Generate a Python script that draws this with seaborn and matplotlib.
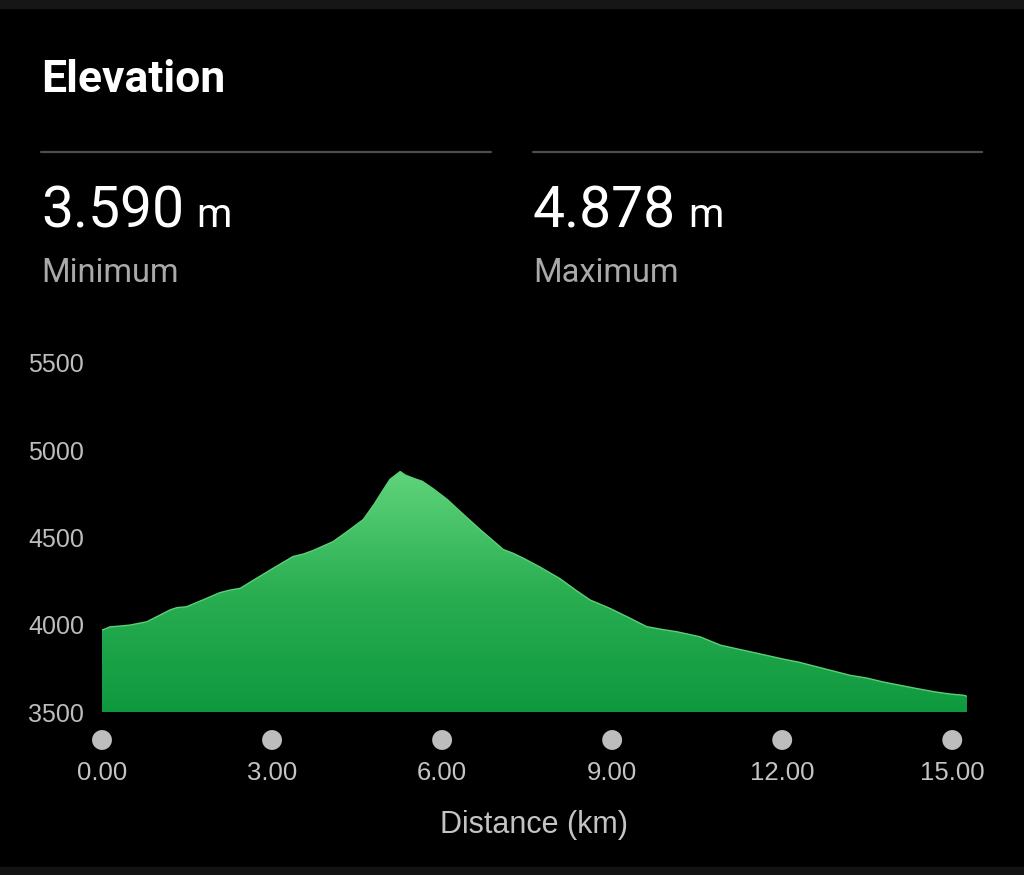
import numpy as np
import pandas as pd
import matplotlib
matplotlib.use("Agg")
import matplotlib.pyplot as plt
from matplotlib.colors import LinearSegmentedColormap
from matplotlib.patches import Rectangle
import matplotlib.transforms as mtransforms
import seaborn as sns

## data ##
distance_km = [0.00, 0.05, 0.14, 0.30, 0.49, 0.79, 1.05, 1.20, 1.32, 1.49,
               1.80, 2.08, 2.25, 2.44, 2.66, 3.00, 3.37, 3.55, 3.72, 4.08,
               4.35, 4.61, 4.80, 4.91, 5.08, 5.26, 5.35, 5.49, 5.65, 5.84,
               6.09, 6.40, 6.67, 7.08, 7.25, 7.43, 7.73, 8.08, 8.35, 8.61,
               8.96, 9.30, 9.61, 9.90, 10.14, 10.55, 10.91, 11.20, 11.44, 12.02,
               12.30, 12.61, 13.20, 13.50, 13.78, 14.38, 14.70, 14.96, 15.20, 15.26]
elevation_m = [3970, 3975, 3988, 3992, 3998, 4017, 4060, 4085, 4098, 4103,
               4145, 4184, 4198, 4209, 4253, 4320, 4391, 4405, 4425, 4477,
               4540, 4603, 4690, 4747, 4833, 4878, 4858, 4840, 4822, 4780,
               4718, 4625, 4546, 4431, 4410, 4382, 4330, 4264, 4200, 4142,
               4094, 4040, 3989, 3972, 3960, 3931, 3883, 3862, 3845, 3803,
               3785, 3759, 3710, 3694, 3672, 3634, 3615, 3603, 3596, 3590]
x_ticks = [0, 3, 6, 9, 12, 15]
x_tick_labels = ["0.00", "3.00", "6.00", "9.00", "12.00", "15.00"]
y_ticks = [3500, 4000, 4500, 5000, 5500]
min_label = "3.590"
max_label = "4.878"

df = pd.DataFrame({"Distance": distance_km, "Elevation": elevation_m})

sns.set_theme(style="dark")
plt.rcParams['font.family'] = ['Liberation Sans', 'DejaVu Sans']
plt.rcParams['figure.facecolor'] = 'black'
plt.rcParams['axes.facecolor'] = 'black'

W, H = 1024, 875
fig = plt.figure(figsize=(W / 100, H / 100), dpi=100)

def fx(px):
    return px / W

def fy(py):
    return 1 - py / H

# phone frame bands
fig.patches.append(Rectangle((0, fy(8)), 1, 8 / H, transform=fig.transFigure,
                             color='#161616', zorder=0))
fig.patches.append(Rectangle((0, 0), 1, 8 / H, transform=fig.transFigure,
                             color='#131313', zorder=0))

## header ##
hdr = ['Roboto', 'DejaVu Sans']
fig.text(fx(41), fy(80), "Elevation", color='white', fontsize=32,
         fontweight='bold', family=hdr, va='center', ha='left')
fig.add_artist(plt.Line2D([fx(41), fx(491)], [fy(152), fy(152)],
                          color='#4d4d4d', lw=1.6))
fig.add_artist(plt.Line2D([fx(533), fx(982)], [fy(152), fy(152)],
                          color='#4d4d4d', lw=1.6))

for x0, val, name in [(41, min_label, "Minimum"), (533, max_label, "Maximum")]:
    t = fig.text(fx(x0), fy(227), val, color='white', fontsize=41,
                 family=hdr, va='baseline', ha='left')
    fig.canvas.draw()
    bb = t.get_window_extent()
    fig.text(fx(bb.x1 + 12), fy(227), "m", color='white', fontsize=29,
             family=hdr, va='baseline', ha='left')
    fig.text(fx(x0), fy(282), name, color='#a9a9a9', fontsize=23.5,
             family=hdr, va='baseline', ha='left')

## chart ##
ax_left, ax_right, ax_top, ax_bot = 102, 967, 363, 712
ax = fig.add_axes([fx(ax_left), fy(ax_bot), (ax_right - ax_left) / W,
                   (ax_bot - ax_top) / H])
ax.set_facecolor('black')

top_col = '#60d47b'
bot_col = '#0f993f'
sns.lineplot(data=df, x="Distance", y="Elevation", ax=ax, color='#5ccf77',
             linewidth=1.0)
poly = ax.fill_between(df["Distance"], df["Elevation"], 3500,
                       color='none', linewidth=0)
cmap = LinearSegmentedColormap.from_list("elev", [bot_col, '#2aae52', top_col])
grad = np.linspace(0, 1, 256).reshape(-1, 1)
im = ax.imshow(grad, cmap=cmap, aspect='auto', origin='lower',
               extent=[0, max(distance_km), 3500, max(elevation_m)], zorder=1)
path = poly.get_paths()[0]
im.set_clip_path(path, transform=ax.transData)

ax.set_xlim(0, max(distance_km))
ax.set_ylim(3500, 5500)
for s in ax.spines.values():
    s.set_visible(False)
ax.grid(False)

ax.set_yticks(y_ticks)
ax.set_yticklabels([str(v) for v in y_ticks])
ax.tick_params(axis='y', length=0, pad=(ax_left - 28) * 0.72,
               labelsize=18, labelcolor='#bdbdbd')
for lab in ax.get_yticklabels():
    lab.set_horizontalalignment('left')

ax.set_xticks(x_ticks)
ax.set_xticklabels(x_tick_labels)
ax.tick_params(axis='x', length=0, pad=(765 - ax_bot) * 0.72 - 3,
               labelsize=18.5, labelcolor='#c4c4c4')

# round tick markers below the axis
trans = mtransforms.blended_transform_factory(ax.transData, ax.transAxes)
sns.scatterplot(x=x_ticks, y=[-(740 - ax_bot) / (ax_bot - ax_top)] * len(x_ticks),
                ax=ax, transform=trans, s=205, color='#bdbdbd',
                edgecolor='none', clip_on=False, zorder=3)

ax.set_xlabel("Distance (km)", fontsize=22, color='#c4c4c4')
ax.set_ylabel("")
ax.xaxis.set_label_coords(0.5, -(825 - ax_bot) / (ax_bot - ax_top))
ax.xaxis.label.set_verticalalignment('center')

fig.savefig("out.png", dpi=100, facecolor='black')
